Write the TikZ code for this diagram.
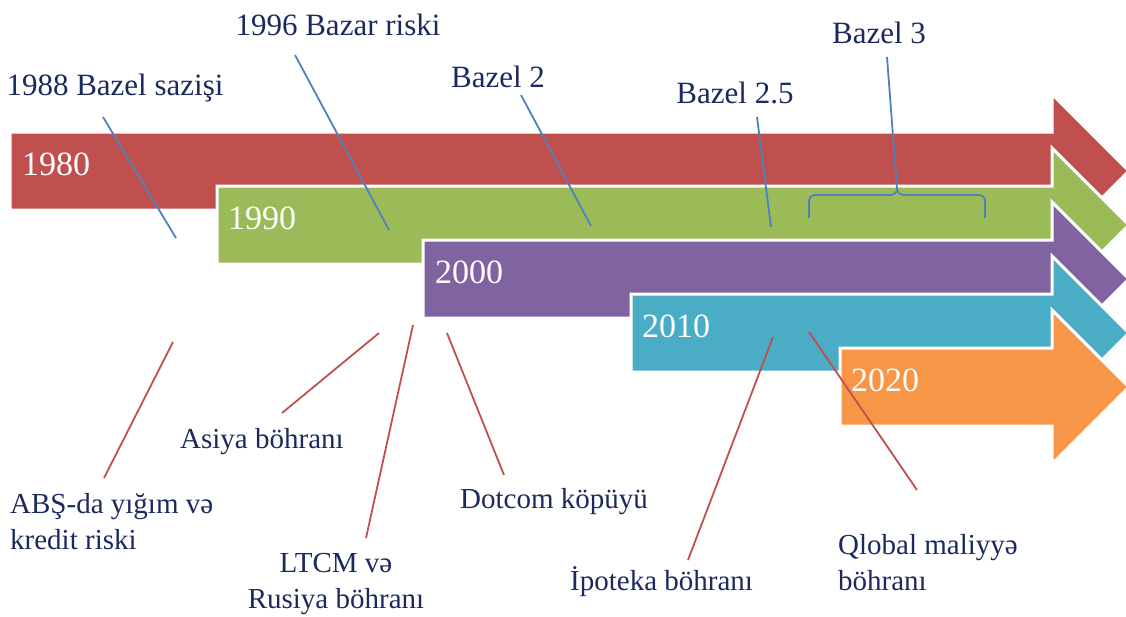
\documentclass[tikz,border=0pt]{standalone}
\usepackage{fontspec}
\setmainfont{Liberation Serif}
\definecolor{cred}{HTML}{C0504D}
\definecolor{cgreen}{HTML}{9BBB59}
\definecolor{cpurple}{HTML}{8064A2}
\definecolor{cblue}{HTML}{4BACC6}
\definecolor{corange}{HTML}{F79646}
\definecolor{lblue}{HTML}{4F81BD}
\definecolor{lred}{HTML}{C0504D}
\definecolor{navy}{HTML}{1B2A5E}
\newcommand\tlarrow[3]{\path[band,fill=#1] (#2,{#3-39}) -- (1052,{#3-39}) -- (1052,{#3-77}) -- (1129,#3) -- (1052,{#3+77}) -- (1052,{#3+39}) -- (#2,{#3+39}) -- cycle;}
\begin{document}
\begin{tikzpicture}[x=1pt,y=-1pt,
  band/.style={draw=white,line width=3pt,line join=miter},
  yearlbl/.style={anchor=west,inner sep=0pt,text=white,font=\fontsize{34}{40}\selectfont},
  lbl/.style={inner sep=0pt,text=navy,font=\fontsize{29}{36}\selectfont},
  toplbl/.style={lbl,anchor=base,font=\fontsize{31}{37}\selectfont},
  bline/.style={draw=lblue,line width=1.8pt},
  rline/.style={draw=lred,line width=1.8pt}]
\useasboundingbox (0,0) rectangle (1126,616);
\clip (0,0) rectangle (1126,616);
% arrows
\tlarrow{cred}{10}{171}
\tlarrow{cgreen}{217}{225}
\tlarrow{cpurple}{423}{279}
\tlarrow{cblue}{631}{333}
\tlarrow{corange}{840}{387}
% years
\node[yearlbl] (y1980) at (22,164) {1980};
\node[yearlbl] (y1990) at (228,218) {1990};
\node[yearlbl] (y2000) at (435,272) {2000};
\node[yearlbl] (y2010) at (642,326) {2010};
\node[yearlbl] (y2020) at (851,380) {2020};
% top labels
\node[toplbl] (l1988) at (115,95) {1988 Bazel sazişi};
\node[toplbl] (l1996) at (338,35) {1996 Bazar riski};
\node[toplbl] (lb2) at (498,87) {Bazel 2};
\node[toplbl] (lb25) at (735,103) {Bazel 2.5};
\node[toplbl] (lb3) at (879,43) {Bazel 3};
% bottom labels (base = last line)
\node[lbl,anchor=base west] (lasia) at (180,448) {Asiya böhranı};
\node[lbl,anchor=base west,align=left] (labs) at (10,549) {ABŞ-da yığım və\\kredit riski};
\node[lbl,anchor=base west] (ldot) at (460,508) {Dotcom köpüyü};
\node[lbl,anchor=base,align=center] (lltcm) at (336,608) {LTCM və\\Rusiya böhranı};
\node[lbl,anchor=base west] (lipo) at (570,590) {İpoteka böhranı};
\node[lbl,anchor=base west,align=left] (lqlo) at (838,590) {Qlobal maliyyə\\böhranı};
% connector coordinates
\coordinate (b1s) at (103,117); \coordinate (b1e) at (176,238);
\coordinate (b2s) at (295,55);  \coordinate (b2e) at (389,230);
\coordinate (b3s) at (521,95);  \coordinate (b3e) at (591,226);
\coordinate (b4s) at (757,117); \coordinate (b4e) at (771,227);
\coordinate (b5s) at (887,57);  \coordinate (b5e) at (897,189);
\coordinate (brl) at (809,218); \coordinate (brr) at (985,218);
\coordinate (r1s) at (173,342); \coordinate (r1e) at (104,478);
\coordinate (r2s) at (379,333); \coordinate (r2e) at (282,413);
\coordinate (r3s) at (413,325); \coordinate (r3e) at (366,538);
\coordinate (r4s) at (447,333); \coordinate (r4e) at (504,475);
\coordinate (r5s) at (773,337); \coordinate (r5e) at (688,560);
\coordinate (r6s) at (809,332); \coordinate (r6e) at (917,490);
% blue connectors
\draw[bline] (b1s) -- (b1e);
\draw[bline] (b2s) -- (b2e);
\draw[bline] (b3s) -- (b3e);
\draw[bline] (b4s) -- (b4e);
\draw[bline] (b5s) -- (b5e);
\draw[bline] (brl) -- (809,201) to[out=90,in=180] (815,195) -- (890,195) to[out=0,in=270] (b5e);
\draw[bline] (brr) -- (985,201) to[out=90,in=0] (979,195) -- (904,195) to[out=180,in=270] (b5e);
% red connectors
\draw[rline] (r1s) -- (r1e);
\draw[rline] (r2s) -- (r2e);
\draw[rline] (r3s) -- (r3e);
\draw[rline] (r4s) -- (r4e);
\draw[rline] (r5s) -- (r5e);
\draw[rline] (r6s) -- (r6e);
\end{tikzpicture}
\end{document}
